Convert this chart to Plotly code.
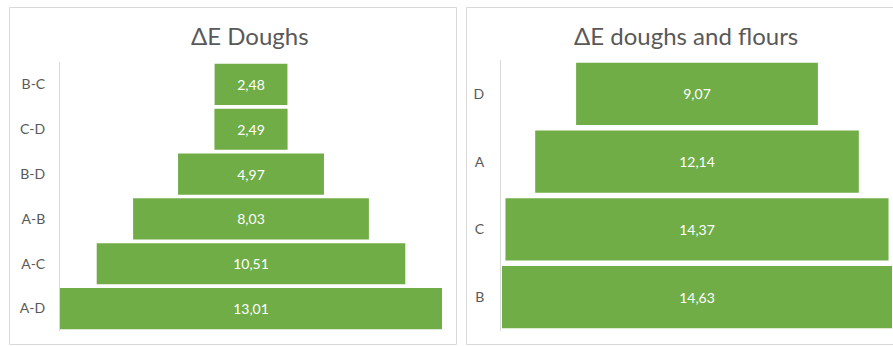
import plotly.graph_objects as go

# Colour differences (ΔE) between dough pairs
pairs = ["B-C", "C-D", "B-D", "A-B", "A-C", "A-D"]
pair_delta_e = [2.48, 2.49, 4.97, 8.03, 10.51, 13.01]

# Colour differences (ΔE) between doughs and their flours
samples = ["D", "A", "C", "B"]
sample_delta_e = [9.07, 12.14, 14.37, 14.63]

W, H = 893, 346
GREEN = "#70AD47"
GREY_TEXT = "#595959"
GREY_LINE = "#D9D9D9"
FONT = "Lato, 'Open Sans', sans-serif"


def px_x(v):
    return v / W


def px_y(v):
    return 1 - v / H


fig = go.Figure()

fig.add_trace(go.Funnel(
    y=pairs, x=pair_delta_e,
    xaxis="x", yaxis="y",
    marker=dict(color=GREEN, line=dict(width=0)),
    connector=dict(visible=False),
    texttemplate="%{x:.2f}", textposition="inside",
    insidetextanchor="middle",
    textfont=dict(color="white", size=14, family=FONT),
    constraintext="none",
))

fig.add_trace(go.Funnel(
    y=samples, x=sample_delta_e,
    xaxis="x2", yaxis="y2",
    marker=dict(color=GREEN, line=dict(width=0)),
    connector=dict(visible=False),
    texttemplate="%{x:.2f}", textposition="inside",
    insidetextanchor="middle",
    textfont=dict(color="white", size=14, family=FONT),
    constraintext="none",
))

half1 = max(pair_delta_e) / 2
half2 = max(sample_delta_e) / 2 * 196 / 195

axis_common = dict(showgrid=False, zeroline=False, showticklabels=False, fixedrange=True)

fig.update_layout(
    width=W, height=H,
    margin=dict(l=0, r=0, t=0, b=0),
    paper_bgcolor="white", plot_bgcolor="white",
    showlegend=False,
    separators=",.",
    funnelgap=0.08,
    font=dict(family=FONT, color=GREY_TEXT),
    xaxis=dict(domain=[px_x(60), px_x(442)], range=[-half1, half1], anchor="y", **axis_common),
    yaxis=dict(domain=[px_y(331), px_y(62)], anchor="x", showgrid=False,
               showline=True, linecolor=GREY_LINE, linewidth=1,
               ticks="", ticklabelstandoff=11,
               tickfont=dict(size=14, color=GREY_TEXT, family=FONT)),
    xaxis2=dict(domain=[px_x(501), 1.0], range=[-half2, half2], anchor="y2", **axis_common),
    yaxis2=dict(domain=[px_y(331), px_y(60)], anchor="x2", showgrid=False,
                showline=True, linecolor=GREY_LINE, linewidth=1,
                ticks="", ticklabelstandoff=13,
                tickfont=dict(size=14, color=GREY_TEXT, family=FONT)),
    shapes=[
        dict(type="rect", xref="paper", yref="paper",
             x0=px_x(9.5), x1=px_x(456.5), y0=px_y(344.5), y1=px_y(7.5),
             line=dict(color=GREY_LINE, width=1), fillcolor="rgba(0,0,0,0)", layer="below"),
        dict(type="rect", xref="paper", yref="paper",
             x0=px_x(466.5), x1=px_x(900), y0=px_y(344.5), y1=px_y(7.5),
             line=dict(color=GREY_LINE, width=1), fillcolor="rgba(0,0,0,0)", layer="below"),
    ],
    annotations=[
        dict(text="ΔE Doughs", xref="paper", yref="paper",
             x=px_x(250), y=px_y(35), xanchor="center", yanchor="middle",
             showarrow=False, font=dict(size=24, color=GREY_TEXT, family=FONT)),
        dict(text="ΔE doughs and flours", xref="paper", yref="paper",
             x=px_x(686), y=px_y(35), xanchor="center", yanchor="middle",
             showarrow=False, font=dict(size=24, color=GREY_TEXT, family=FONT)),
    ],
)

fig.write_html("out.html")
